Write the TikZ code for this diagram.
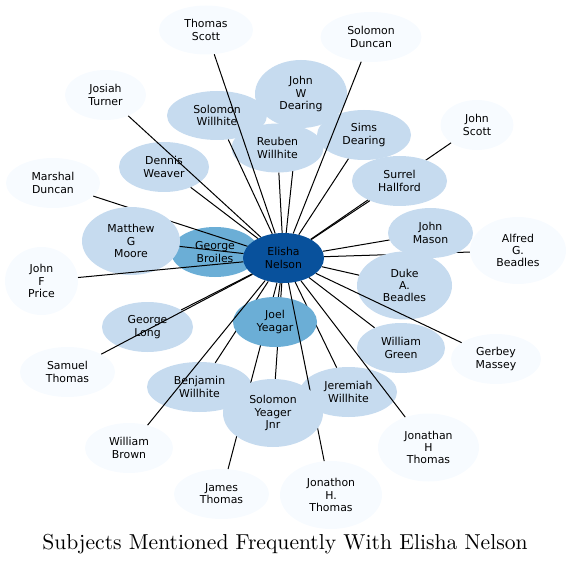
\documentclass[tikz,border=0pt]{standalone}
\usepackage{fontspec}
\newfontfamily\dejavu{DejaVu Sans}
\newfontfamily\titlefont{lmroman10-regular}[Extension=.otf]
\usetikzlibrary{shapes.geometric}
\definecolor{pale}{HTML}{F7FBFF}
\definecolor{mid}{HTML}{C6DBEF}
\definecolor{deep}{HTML}{6BAED6}
\definecolor{core}{HTML}{08519C}
\tikzset{
  person/.style={ellipse, inner sep=0pt, align=center, text=black,
    font=\dejavu\fontsize{10.9}{12.2}\selectfont},
  rim/.style={person, fill=pale},
  near/.style={person, fill=mid},
  close/.style={person, fill=deep},
  hub/.style={person, fill=core},
  sz/.style 2 args={minimum width=#1pt, minimum height=#2pt},
  link/.style={draw=black, line width=1pt},
}
\begin{document}
\begin{tikzpicture}[x=1pt,y=-1pt]
\useasboundingbox (0,0) rectangle (570,564);
% lower layer of nodes
\node[rim, sz={94}{49}] (tscott) at (206,30) {Thomas\\Scott};
\node[rim, sz={101}{50}] (sduncan) at (371,37) {Solomon\\Duncan};
\node[rim, sz={81}{50}] (jturner) at (105.5,95) {Josiah\\Turner};
\node[near, sz={92}{68}] (jwdearing) at (301,94) {John\\W\\Dearing};
\node[near, sz={100}{49}] (swillhite) at (217,115.5) {Solomon\\Willhite};
\node[near, sz={94}{50}] (sdearing) at (364,135) {Sims\\Dearing};
\node[rim, sz={73}{50}] (jscott) at (477,125) {John\\Scott};
\node[near, sz={90}{50}] (dweaver) at (164,167) {Dennis\\Weaver};
\node[rim, sz={94}{50}] (mduncan) at (53,183) {Marshal\\Duncan};
\node[close, sz={88}{50}] (gbroiles) at (215,252) {George\\Broiles};
\node[rim, sz={96}{67}] (agbeadles) at (518,250.5) {Alfred\\G.\\Beadles};
\node[rim, sz={73}{68}] (jfprice) at (41.5,281) {John\\F\\Price};
\node[near, sz={91}{50}] (glong) at (147.5,327) {George\\Long};
\node[near, sz={88}{50}] (wgreen) at (401,348) {William\\Green};
\node[rim, sz={90}{50}] (gmassey) at (496,359) {Gerbey\\Massey};
\node[rim, sz={95}{50}] (sthomas) at (67.5,372) {Samuel\\Thomas};
\node[near, sz={105}{50}] (bwillhite) at (199.5,387) {Benjamin\\Willhite};
\node[near, sz={97}{50}] (jwillhite) at (348.5,392) {Jeremiah\\Willhite};
\node[rim, sz={101}{68}] (jhthomas) at (428.5,447.5) {Jonathan\\H\\Thomas};
\node[rim, sz={88}{50}] (wbrown) at (129,448) {William\\Brown};
\node[rim, sz={95}{50}] (jthomas) at (221.5,494) {James\\Thomas};
\node[rim, sz={102}{68}] (jhdthomas) at (331,495) {Jonathon\\H.\\Thomas};
\node[hub, sz={81}{50}] (enelson) at (283.5,258) {Elisha\\Nelson};
\coordinate (syjcentre) at (273,413);
% connectors that lie beneath later nodes
\draw[link] (enelson) -- (jwdearing);
\draw[link] (enelson) -- (jscott);
\draw[link] (enelson) -- (mduncan);
\draw[link] (enelson) -- (agbeadles);
\draw[link] (enelson) -- (jthomas);
\draw[link] (enelson) -- (syjcentre);
\draw[link] (enelson) -- (jwillhite);
\draw[link] (enelson) -- (bwillhite);
% upper layer of nodes
\node[near, sz={92}{49}] (rwillhite) at (277.5,148) {Reuben\\Willhite};
\node[near, sz={95}{50}] (shallford) at (399.5,181) {Surrel\\Hallford};
\node[near, sz={98}{68}] (mgmoore) at (131,241) {Matthew\\G\\Moore};
\node[near, sz={95}{68}] (dabeadles) at (404.5,285.5) {Duke\\A.\\Beadles};
\node[near, sz={85}{50}] (jmason) at (430.5,233) {John\\Mason};
\node[close, sz={84}{50}] (jyeagar) at (275,322) {Joel\\Yeagar};
% connectors on top
\draw[link] (enelson) -- (tscott);
\draw[link] (enelson) -- (sduncan);
\draw[link] (enelson) -- (jturner);
\draw[link] (enelson) -- (swillhite);
\draw[link] (enelson) -- (sdearing);
\draw[link] (enelson) -- (dweaver);
\draw[link] (enelson) -- (rwillhite);
\draw[link] (enelson) -- (shallford);
\draw[link] (enelson) -- (mgmoore);
\draw[link] (enelson) -- (jfprice);
\draw[link] (enelson) -- (jmason);
\draw[link] (enelson) -- (dabeadles);
\draw[link] (enelson) -- (gmassey);
\draw[link] (enelson) -- (wgreen);
\draw[link] (enelson) -- (jyeagar);
\draw[link] (enelson) -- (jhdthomas);
\draw[link] (enelson) -- (jhthomas);
\draw[link] (enelson) -- (glong);
\draw[link] (enelson) -- (sthomas);
\draw[link] (enelson) -- (wbrown);
% topmost node
\node[near, sz={100}{68}] (syjnr) at (syjcentre) {Solomon\\Yeager\\Jnr};
% title
\node[anchor=base, inner sep=0pt, font=\titlefont\fontsize{21.6}{26}\selectfont] (title) at (285,549)
  {Subjects Mentioned Frequently With Elisha Nelson};
\end{tikzpicture}
\end{document}
